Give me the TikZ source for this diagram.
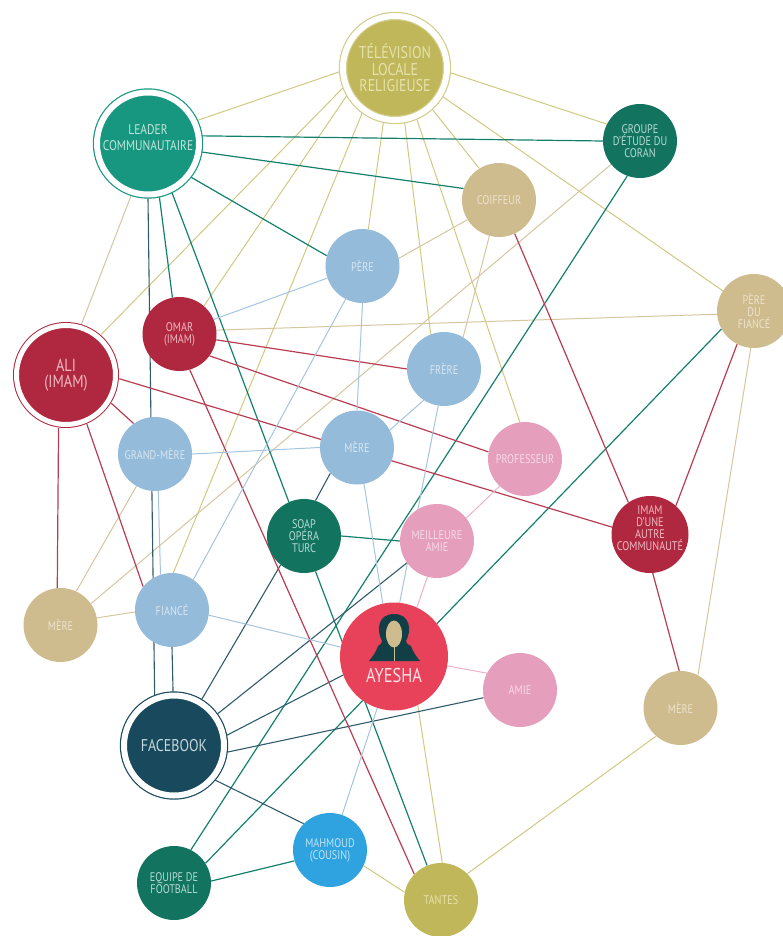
\documentclass[tikz,border=0pt]{standalone}
\usepackage{fontspec}
\setmainfont[FakeStretch=0.82]{PT Sans}
\usetikzlibrary{backgrounds}

\definecolor{tvfill}{HTML}{C0B75A}
\definecolor{tvtext}{HTML}{E6E2AE}
\definecolor{leaderfill}{HTML}{17977F}
\definecolor{leadertext}{HTML}{BFE5DC}
\definecolor{greenfill}{HTML}{12735F}
\definecolor{greentext}{HTML}{B6DBD3}
\definecolor{tanfill}{HTML}{CFBC8E}
\definecolor{tantext}{HTML}{ECE3CC}
\definecolor{bluefill}{HTML}{94BBD9}
\definecolor{bluetext}{HTML}{D8E6F1}
\definecolor{redfill}{HTML}{B0283F}
\definecolor{redtext}{HTML}{EEB9C2}
\definecolor{pinkfill}{HTML}{E59FBD}
\definecolor{pinktext}{HTML}{F6DBE6}
\definecolor{ayeshafill}{HTML}{E8415A}
\definecolor{fbfill}{HTML}{19495C}
\definecolor{fbtext}{HTML}{C5D6DC}
\definecolor{cousinfill}{HTML}{2FA3E0}
\definecolor{cousintext}{HTML}{BFE3F6}
\definecolor{hoodcol}{HTML}{123F45}

\tikzset{
    person/.style 2 args={circle, fill=#1, text=#2, minimum size=74pt, inner sep=0pt,
        align=center, font=\fontsize{12.5}{12}\selectfont},
    ringed/.style 2 args={circle, draw=#1, fill=#1, text=#2, double=white, double distance=6pt,
        line width=1.2pt, outer sep=4pt, inner sep=0pt, align=center},
    oliveline/.style={draw=tvfill!75, line width=1pt},
    tanline/.style={draw=tanfill!85, line width=1pt},
    tealline/.style={draw=leaderfill!85!black, line width=1.2pt},
    darkline/.style={draw=fbfill!90, line width=1.1pt},
    redline/.style={draw=redfill!90, line width=1.2pt},
    blueline/.style={draw=bluefill!85, line width=1pt},
    pinkline/.style={draw=pinkfill!80, line width=1pt},
}

\begin{document}
\begin{tikzpicture}[x=1pt, y=-1pt]
    \useasboundingbox (0,0) rectangle (783,936);

    % large nodes with a ring
    \node[ringed={tvfill}{tvtext}, draw=tvfill!70, minimum size=104pt, font=\fontsize{17}{16.5}\selectfont]
        (tv) at (395,68) {TÉLÉVISION\\LOCALE\\RELIGIEUSE};
    \node[ringed={leaderfill}{leadertext}, minimum size=102pt, font=\fontsize{14}{16}\selectfont]
        (leader) at (148,143.5) {LEADER\\COMMUNAUTAIRE\\[-5pt]\mbox{}};
    \node[ringed={redfill}{redtext}, minimum size=99pt, line width=1pt, double distance=5pt, font=\fontsize{17.5}{16.5}\selectfont]
        (ali) at (66,375) {ALI\\(IMAM)};
    \node[ringed={fbfill}{fbtext}, minimum size=100pt, font=\fontsize{17}{18}\selectfont]
        (fb) at (174,745.5) {FACEBOOK};

    % everybody else
    \node[person={greenfill}{greentext}] (groupe) at (640,141) {GROUPE\\D'ÉTUDE DU\\CORAN};
    \node[person={tanfill}{tantext}] (coiffeur) at (499,200) {COIFFEUR};
    \node[person={bluefill}{bluetext}] (pere) at (362.5,266) {PÈRE};
    \node[person={tanfill}{tantext}] (perefiance) at (754,311) {PÈRE\\DU\\FIANCÉ};
    \node[person={redfill}{redtext}] (omar) at (179.5,334) {OMAR\\(IMAM)};
    \node[person={bluefill}{bluetext}] (frere) at (444,369) {FRÈRE};
    \node[person={bluefill}{bluetext}] (grandmere) at (155,454) {GRAND-MÈRE};
    \node[person={bluefill}{bluetext}] (mere) at (357,447.5) {MÈRE};
    \node[person={pinkfill}{pinktext}] (professeur) at (525,459) {PROFESSEUR};
    \node[person={greenfill}{greentext}] (soap) at (304,536) {SOAP\\OPÉRA\\TURC};
    \node[person={pinkfill}{pinktext}] (meilleure) at (437,541) {MEILLEURE\\AMIE};
    \node[person={redfill}{redtext}, minimum size=77pt, inner sep=-10pt] (imam) at (650,534.5) {IMAM\\D'UNE\\AUTRE\\COMMUNAUTÉ\\\mbox{}};
    \node[person={tanfill}{tantext}] (meretan) at (60.5,625) {MÈRE};
    \node[person={bluefill}{bluetext}] (fiance) at (172,610) {FIANCÉ};
    \node[person={pinkfill}{pinktext}] (amie) at (520,690) {AMIE};
    \node[person={tanfill}{tantext}] (mereright) at (680.5,708) {MÈRE};
    \node[person={cousinfill}{cousintext}] (mahmoud) at (330,850) {MAHMOUD\\(COUSIN)};
    \node[person={greenfill}{greentext}] (equipe) at (174,883) {EQUIPE DE\\FOOTBALL};
    \node[person={tvfill}{tvtext}] (tantes) at (441,900) {TANTES};
    \node[person={ayeshafill}{white}, minimum size=108pt] (ayesha) at (394,656.5) {};
    \node[text=white!85!ayeshafill, font=\fontsize{20}{20}\selectfont] (ayeshaname) at (394,675) {AYESHA};

    % the figure in the hood
    \fill[hoodcol]
        (369,661) .. controls (373,656) and (376,652) .. (378,646)
        .. controls (381,644) and (382,643) .. (382,641)
        .. controls (376,630) and (378,614) .. (394,614)
        .. controls (410,614) and (412,630) .. (406,641)
        .. controls (406,643) and (407,644) .. (411,646)
        .. controls (413,652) and (416,656) .. (420,661) -- cycle;
    \fill[tanfill] (394,634) ellipse (8 and 13.5);
    \draw[tanfill, line width=.3pt] (394,647) -- (394,661);

    \begin{pgfonlayer}{background}
    % lines of the local television
    \foreach \from/\to in {tv.184/leader.25, tv.355/groupe.153, tv.329/perefiance.147,
        tv.312/coiffeur.122, tv.258/pere.81, tv.201/ali.49, tv.210/omar.49, tv.234/fiance.88,
        tv.280/frere.111, tv.293/professeur.98, tantes.88/ayesha.296, tantes.45/mereright.229,
        mahmoud.335/tantes.168}
        \draw[oliveline] (\from) -- (\to);
    \foreach \from/\to in {leader.252/ali.73, pere.12/coiffeur.212, coiffeur.255/frere.59,
        groupe.219/meretan.35, perefiance.185/omar.6, perefiance.265/mereright.62,
        grandmere.240/meretan.65, fiance.183/meretan.11}
        \draw[tanline] (\from) -- (\to);
    \foreach \from/\to in {leader.8/groupe.180, leader.351/coiffeur.162, leader.322/pere.164,
        leader.282/omar.101, leader.296/soap.114, groupe.250/equipe.63, perefiance.209/equipe.32.5,
        soap.288/tantes.112, soap.0/meilleure.180, equipe.3/mahmoud.197}
        \draw[tealline] (\from) -- (\to);
    \foreach \from/\to in {leader.270/fb.111, mere.224/soap.72, soap.231/fb.59, meilleure.216/fb.36,
        fiance.270/fb.91, fb.11/ayesha.200, fb.353/amie.192, fb.320/mahmoud.135}
        \draw[darkline] (\from) -- (\to);
    \foreach \from/\to in {coiffeur.295/imam.124, perefiance.243/imam.48, omar.351/frere.180,
        omar.324/professeur.169, omar.286/tantes.136, ali.356/imam.169, ali.328/grandmere.125,
        ali.262/meretan.95, ali.293/fiance.141, imam.274/mereright.92}
        \draw[redline] (\from) -- (\to);
    \foreach \from/\to in {pere.199/omar.23, pere.270/mere.90, pere.243/fiance.55, grandmere.0/mere.180,
        grandmere.275/fiance.108, mere.281/ayesha.102, frere.237/mere.28, frere.261/ayesha.84,
        fiance.352/ayesha.170, mahmoud.71/ayesha.252}
        \draw[blueline] (\from) -- (\to);
    \foreach \from/\to in {professeur.227/meilleure.38, meilleure.255/ayesha.65, ayesha.350/amie.153}
        \draw[pinkline] (\from) -- (\to);
    \end{pgfonlayer}
\end{tikzpicture}
\end{document}
